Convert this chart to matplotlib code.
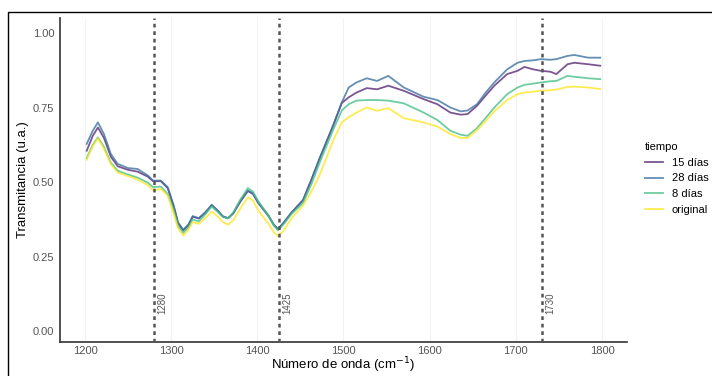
import matplotlib
matplotlib.use("Agg")
import matplotlib.pyplot as plt
from matplotlib.patches import Rectangle

plt.rcParams['font.family'] = ['Liberation Sans', 'DejaVu Sans']

wavenumber = [1202, 1209, 1215, 1222, 1230, 1238, 1250, 1261, 1273, 1279, 1288, 1296, 1303, 1308,
              1314, 1320, 1325, 1332, 1340, 1347, 1354, 1360, 1366, 1372, 1380, 1389, 1395, 1401,
              1413, 1419, 1424, 1430, 1440, 1453, 1463, 1473, 1488, 1498, 1506, 1515, 1527, 1539,
              1552, 1570, 1593, 1609, 1624, 1636, 1644, 1655, 1665, 1675, 1690, 1702, 1710, 1720,
              1729, 1740, 1747, 1760, 1768, 1784, 1798]

t28 = [0.628, 0.672, 0.700, 0.661, 0.594, 0.561, 0.547, 0.544, 0.522, 0.505, 0.505, 0.483, 0.420, 0.365,
       0.340, 0.358, 0.386, 0.379, 0.400, 0.424, 0.405, 0.385, 0.379, 0.395, 0.435, 0.472, 0.462, 0.432,
       0.388, 0.358, 0.343, 0.362, 0.399, 0.438, 0.510, 0.583, 0.689, 0.767, 0.817, 0.834, 0.848, 0.839,
       0.856, 0.817, 0.786, 0.775, 0.750, 0.737, 0.740, 0.761, 0.800, 0.834, 0.878, 0.900, 0.906, 0.908,
       0.912, 0.910, 0.912, 0.923, 0.926, 0.917, 0.917]

t15 = [0.605, 0.655, 0.683, 0.648, 0.585, 0.553, 0.541, 0.535, 0.518, 0.503, 0.503, 0.480, 0.418, 0.362,
       0.338, 0.355, 0.384, 0.378, 0.398, 0.422, 0.404, 0.385, 0.379, 0.395, 0.433, 0.470, 0.460, 0.430,
       0.386, 0.357, 0.342, 0.362, 0.399, 0.440, 0.510, 0.585, 0.690, 0.765, 0.784, 0.800, 0.815, 0.811,
       0.823, 0.806, 0.778, 0.761, 0.733, 0.726, 0.728, 0.756, 0.790, 0.823, 0.862, 0.873, 0.886, 0.878,
       0.873, 0.870, 0.862, 0.895, 0.900, 0.895, 0.890]

t8 = [0.580, 0.625, 0.650, 0.618, 0.565, 0.538, 0.525, 0.515, 0.498, 0.483, 0.485, 0.460, 0.405, 0.352,
      0.330, 0.348, 0.375, 0.368, 0.393, 0.418, 0.400, 0.383, 0.378, 0.398, 0.440, 0.480, 0.468, 0.436,
      0.388, 0.355, 0.338, 0.357, 0.394, 0.430, 0.495, 0.570, 0.675, 0.740, 0.761, 0.773, 0.775, 0.775,
      0.773, 0.764, 0.733, 0.708, 0.672, 0.659, 0.655, 0.681, 0.715, 0.750, 0.795, 0.817, 0.826, 0.830,
      0.834, 0.838, 0.839, 0.856, 0.853, 0.848, 0.845]

t0 = [0.575, 0.620, 0.647, 0.612, 0.560, 0.532, 0.520, 0.508, 0.490, 0.472, 0.477, 0.455, 0.395, 0.345,
      0.321, 0.340, 0.366, 0.360, 0.380, 0.401, 0.385, 0.366, 0.357, 0.372, 0.410, 0.449, 0.438, 0.405,
      0.360, 0.332, 0.319, 0.335, 0.380, 0.421, 0.470, 0.528, 0.639, 0.700, 0.717, 0.733, 0.750, 0.739,
      0.748, 0.714, 0.700, 0.686, 0.661, 0.648, 0.648, 0.674, 0.705, 0.737, 0.775, 0.795, 0.800, 0.803,
      0.806, 0.808, 0.810, 0.819, 0.820, 0.817, 0.812]

series_labels = ["15 días", "28 días", "8 días", "original"]
series_values = [t15, t28, t8, t0]
series_colors = ["#5b2a78", "#3e73a0", "#48c08a", "#fde725"]

ref_lines = [1280, 1425, 1730]
x_ticks = [1200, 1300, 1400, 1500, 1600, 1700, 1800]
y_ticks = [0.00, 0.25, 0.50, 0.75, 1.00]

fig = plt.figure(figsize=(7.12, 3.76), dpi=100)
ax = fig.add_axes([60/712, 1 - 342/376, (627-60)/712, (342-18)/376])

for xt in x_ticks:
    ax.axvline(xt, color="#f2f2f2", lw=0.8, zorder=0)

for lab, vals, col in zip(series_labels, series_values, series_colors):
    ax.plot(wavenumber, vals, color=col, lw=1.3, alpha=0.8, label=lab, zorder=3,
            solid_joinstyle="round")

for rl in ref_lines:
    ax.axvline(rl, color="#555555", lw=1.8, linestyle=(0, (1.5, 1.5)), zorder=4)
    ax.text(rl + 10, 0.095, str(rl), rotation=90, ha="center", va="center",
            fontsize=7, color="#555555")

ax.set_xlim(1171, 1829)
ax.set_ylim(-0.036, 1.05)
ax.set_xticks(x_ticks)
ax.set_yticks(y_ticks)
ax.set_yticklabels(["0.00", "0.25", "0.50", "0.75", "1.00"])
ax.tick_params(axis="y", length=0, labelsize=8, labelcolor="#555555", pad=4)
ax.tick_params(axis="x", length=0, labelsize=8, labelcolor="#555555", pad=3)
for s in ["top", "right"]:
    ax.spines[s].set_visible(False)
for s in ["left", "bottom"]:
    ax.spines[s].set_color("#333333")
    ax.spines[s].set_linewidth(1.2)

ax.set_xlabel("Número de onda (cm$^{-1}$)", fontsize=9.5, labelpad=-0.5)
ax.set_ylabel("Transmitancia (u.a.)", fontsize=9.5, labelpad=3)

leg = ax.legend(title="tiempo", loc="upper left", bbox_to_anchor=(1.024, 0.63),
                frameon=False, fontsize=8, title_fontsize=8, handlelength=1.6,
                handletextpad=0.8, labelspacing=0.5, borderaxespad=0)
leg._legend_box.align = "left"

fig.patches.append(Rectangle((8/712, -0.1), 1.2, (376 - 11.5)/376 + 0.1,
                             transform=fig.transFigure, fill=False, edgecolor="black",
                             lw=1.0, clip_on=False))

fig.savefig("out.png", dpi=100)
